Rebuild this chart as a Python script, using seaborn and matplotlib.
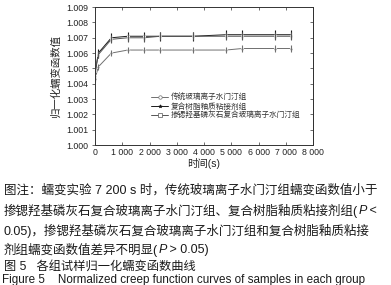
import pandas as pd
import matplotlib
matplotlib.use("Agg")
import matplotlib.pyplot as plt
import seaborn as sns

# --- Data ---
times = [0, 120, 600, 1200, 1800, 2400, 3600, 4800, 5400, 6600, 7200]
groups = ["传统玻璃离子水门汀组", "复合树脂釉质粘接剂组", "掺锶羟基磷灰石复合玻璃离子水门汀组"]
gic = [1.0043, 1.0051, 1.0060, 1.0062, 1.0062, 1.0062, 1.0062, 1.0062, 1.0063, 1.0063, 1.0063]
resin = [1.0046, 1.0060, 1.0070, 1.0071, 1.0071, 1.0071, 1.0071, 1.0072, 1.0072, 1.0072, 1.0072]
sr_gic = [1.0048, 1.0059, 1.0069, 1.0070, 1.0070, 1.0071, 1.0071, 1.0071, 1.0071, 1.0071, 1.0071]
gic_err = [0.0002, 0.0002, 0.0002, 0.0002, 0.0002, 0.0002, 0.0002, 0.0002, 0.0002, 0.0002, 0.0002]
resin_err = [0.0003, 0.0003, 0.0003, 0.0003, 0.0003, 0.0003, 0.0003, 0.0003, 0.0003, 0.0003, 0.0003]
sr_err = [0.00025, 0.00025, 0.00025, 0.00025, 0.00025, 0.00025, 0.00025, 0.00025, 0.00025, 0.00025, 0.00025]
x_ticks = [0, 1000, 2000, 3000, 4000, 5000, 6000, 7000, 8000]
x_tick_labels = ["0", "1 000", "2 000", "3 000", "4 000", "5 000", "6 000", "7 000", "8 000"]
y_ticks = [1.000, 1.001, 1.002, 1.003, 1.004, 1.005, 1.006, 1.007, 1.008, 1.009]

rows = []
for name, vals, errs in zip(groups, [gic, resin, sr_gic], [gic_err, resin_err, sr_err]):
    for t, v, e in zip(times, vals, errs):
        rows.append({"time": t, "value": v, "err": e, "group": name})
df = pd.DataFrame(rows)

# --- Style ---
sns.set_style("ticks")
plt.rcParams["font.family"] = ["Liberation Sans", "Noto Sans CJK SC", "DejaVu Sans"]
cjk = ["Noto Sans CJK SC", "DejaVu Sans"]
mixed = ["Liberation Sans", "Noto Sans CJK SC", "DejaVu Sans"]

colors = {groups[0]: "#707070", groups[1]: "#1a1a1a", groups[2]: "#555555"}
markers = {groups[0]: "o", groups[1]: "*", groups[2]: "s"}

fig = plt.figure(figsize=(3.91, 2.85), dpi=100)
ax = fig.add_axes([0.243, 0.491, 0.558, 0.484])

sns.lineplot(data=df, x="time", y="value", hue="group", style="group",
             palette=colors, markers=markers, dashes=False, linewidth=0.7,
             markersize=2.0, markeredgewidth=0.5, ax=ax, legend=False)
for name in groups:
    sub = df[df["group"] == name]
    ax.errorbar(sub["time"], sub["value"], yerr=sub["err"], fmt="none",
                ecolor=colors[name], elinewidth=0.8, capsize=0)

ax.set_xlim(0, 8000)
ax.set_ylim(1.000, 1.009)
ax.set_xticks(x_ticks)
ax.set_xticklabels(x_tick_labels)
ax.set_yticks(y_ticks)
ax.set_yticklabels([f"{v:.3f}" for v in y_ticks])
ax.tick_params(axis="both", labelsize=6.3, colors="#333333", width=0.5, length=2.5, pad=2)
ax.tick_params(axis="x", direction="in", top=True)
ax.tick_params(axis="y", direction="out", right=False)
ax2 = ax.secondary_yaxis("right")
ax2.set_yticks(y_ticks)
ax2.tick_params(direction="in", length=2.5, width=0.5, colors="#333333", labelright=False)
ax2.spines["right"].set_linewidth(0.7)
for s in ax.spines.values():
    s.set_linewidth(0.7)
    s.set_color("#333333")
for lbl in ax.get_xticklabels() + ax.get_yticklabels():
    lbl.set_color("#222222")

ax.set_xlabel("时间(s)", fontsize=7.5, family=mixed, labelpad=1, color="#222222")
ax.set_ylabel("归一化蠕变函数值", fontsize=7.5, family=cjk, labelpad=4, color="#222222")

# legend
handles = [plt.Line2D([], [], color=colors[g], marker=markers[g], markersize=2.5,
                      markerfacecolor="white" if g != groups[1] else colors[g],
                      markeredgewidth=0.5, linewidth=0.7) for g in groups]
leg = ax.legend(handles, groups, loc="upper left", bbox_to_anchor=(0.24, 0.40),
                frameon=False, prop={"family": cjk, "size": 5.5},
                handlelength=2.2, handletextpad=0.4, labelspacing=0.15, borderpad=0)
for t in leg.get_texts():
    t.set_color("#333333")

# --- Caption ---
renderer = fig.canvas.get_renderer()
W, H = 391, 285


def draw_line(parts, x_px, y_px, size):
    x = x_px
    for txt, style in parts:
        kw = dict(fontsize=size, family=mixed, va="center", ha="left", color="#1a1a1a")
        if style == "it":
            kw["style"] = "italic"
        t = fig.text(x / W, 1 - y_px / H, txt, **kw)
        bb = t.get_window_extent(renderer)
        x += bb.width


cap_size = 9
draw_line([("图注：蠕变实验 7 200 s 时，传统玻璃离子水门汀组蠕变函数值小于", "")], 4, 190, cap_size)
draw_line([("掺锶羟基磷灰石复合玻璃离子水门汀组、复合树脂釉质粘接剂组(", ""), ("P", "it"), (" <", "")], 4, 211, cap_size)
draw_line([("0.05)，掺锶羟基磷灰石复合玻璃离子水门汀组和复合树脂釉质粘接", "")], 4, 231, cap_size)
draw_line([("剂组蠕变函数值差异不明显(", ""), ("P", "it"), (" > 0.05)", "")], 4, 250, cap_size)
draw_line([("图 5   各组试样归一化蠕变函数曲线", "")], 4, 267, 8.8)
draw_line([("Figure 5    Normalized creep function curves of samples in each group", "")], 2, 280, 8.4)

fig.savefig("out.png", dpi=100)
